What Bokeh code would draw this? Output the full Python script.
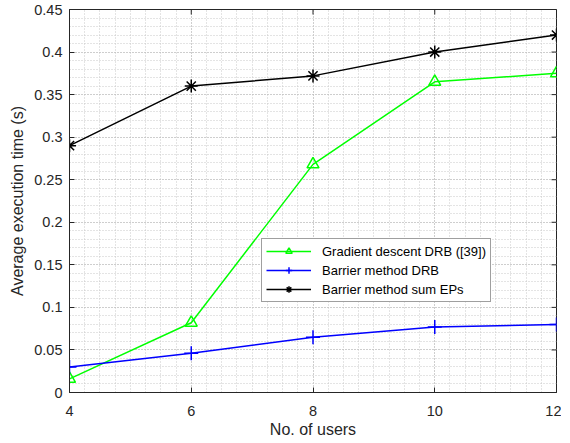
import numpy as np
from bokeh.plotting import figure
from bokeh.models import FixedTicker, Range1d, Legend, LegendItem
from bokeh.embed import file_html
from bokeh.resources import INLINE

users = [4, 6, 8, 10, 12]
gradient_drb = [0.016, 0.082, 0.268, 0.365, 0.375]
barrier_drb = [0.030, 0.046, 0.065, 0.077, 0.080]
barrier_sum = [0.290, 0.360, 0.372, 0.400, 0.420]

x_ticks = [4, 6, 8, 10, 12]
y_ticks = [0, 0.05, 0.1, 0.15, 0.2, 0.25, 0.3, 0.35, 0.4, 0.45]
y_labels = ["0", "0.05", "0.1", "0.15", "0.2", "0.25", "0.3", "0.35", "0.4", "0.45"]

FONT = "Liberation Sans"
AX = "#262626"

p = figure(frame_width=487, frame_height=383, output_backend="svg", toolbar_location=None,
           x_range=Range1d(4, 12), y_range=Range1d(0, 0.45),
           min_border_left=69, min_border_right=5, min_border_top=9, min_border_bottom=49)
p.background_fill_color = "white"
p.border_fill_color = "white"
p.outline_line_color = AX
p.outline_line_width = 1

x_minor = list(np.arange(4, 12.001, 0.25))
y_minor = list(np.round(np.arange(0, 0.4501, 0.01), 3))

p.xaxis.ticker = FixedTicker(ticks=x_ticks, minor_ticks=x_minor)
p.yaxis.ticker = FixedTicker(ticks=y_ticks, minor_ticks=y_minor)
p.yaxis.major_label_overrides = {t: l for t, l in zip(y_ticks, y_labels)}

for g in (p.xgrid[0], p.ygrid[0]):
    g.grid_line_color = "#b8b8b8"
    g.grid_line_dash = "1 2"
    g.grid_line_width = 1
    g.minor_grid_line_color = "#c8c8c8"
    g.minor_grid_line_dash = "1 2"
    g.minor_grid_line_width = 1

for ax in (p.xaxis[0], p.yaxis[0]):
    ax.axis_line_color = AX
    ax.major_tick_line_color = AX
    ax.major_tick_in = 5
    ax.major_tick_out = 0
    ax.minor_tick_in = 0
    ax.minor_tick_out = 0
    ax.major_label_text_font = FONT
    ax.major_label_text_font_size = "14.5px"
    ax.major_label_text_color = AX
    ax.axis_label_text_font = FONT
    ax.axis_label_text_font_size = "16px"
    ax.axis_label_text_font_style = "normal"
    ax.axis_label_text_color = AX

p.xaxis.axis_label = "No. of users"
p.yaxis.axis_label = "Average execution time (s)"
p.xaxis.major_label_standoff = 13
p.xaxis.axis_label_standoff = 2
p.yaxis.major_label_standoff = 7
p.yaxis.axis_label_standoff = 5

# box ticks on top and right edges (half of each dash is clipped by the frame)
p.scatter(x_ticks, [0.45] * len(x_ticks), marker="dash", angle=np.pi / 2, size=10,
          line_color=AX, line_width=1)
p.scatter([12] * len(y_ticks), y_ticks, marker="dash", size=10, line_color=AX, line_width=1)

r1l = p.line(users, gradient_drb, line_color="#00ff00", line_width=1.5)
r1m = p.scatter(users, gradient_drb, marker="triangle", size=12, fill_color=None,
                line_color="#00ff00", line_width=1.5)
r2l = p.line(users, barrier_drb, line_color="#0000ff", line_width=1.5)
r2m = p.scatter(users, barrier_drb, marker="cross", size=14, line_color="#0000ff", line_width=1.5)
r3l = p.line(users, barrier_sum, line_color="black", line_width=1.5)
r3m = p.scatter(users, barrier_sum, marker="asterisk", size=13, line_color="black", line_width=1.5)

legend = Legend(items=[
    LegendItem(label="Gradient descent DRB ([39])", renderers=[r1l, r1m]),
    LegendItem(label="Barrier method DRB", renderers=[r2l, r2m]),
    LegendItem(label="Barrier method sum EPs", renderers=[r3l, r3m]),
], location=(192, 90))
legend.label_text_font = FONT
legend.label_text_font_size = "13px"
legend.label_text_color = "black"
legend.glyph_width = 45
legend.glyph_height = 16
legend.spacing = 3
legend.padding = 4
legend.margin = 0
legend.label_standoff = 11
legend.border_line_color = "#404040"
legend.border_line_width = 1
legend.background_fill_alpha = 1
p.add_layout(legend, "center")

open("out.html", "w").write(file_html(p, INLINE))
